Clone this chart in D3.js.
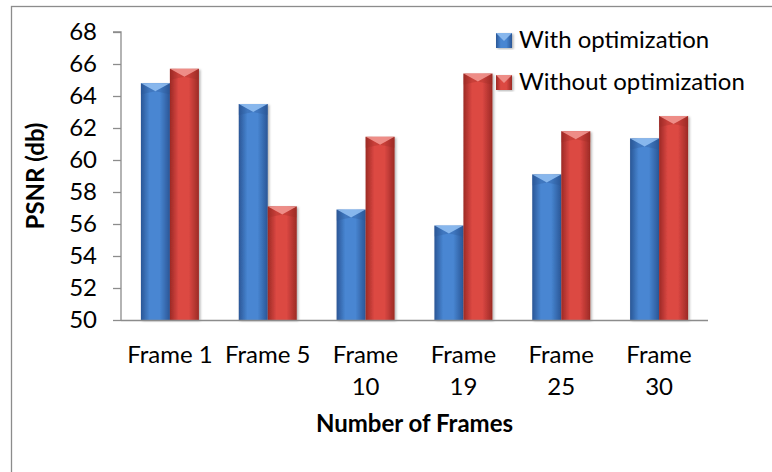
<!DOCTYPE html>
<html>
<head>
<meta charset="utf-8">
<script src="https://cdn.jsdelivr.net/npm/d3@7"></script>
<style>
  html, body { margin: 0; padding: 0; background: #fff; }
  svg { display: block; font-family: Lato, "Open Sans", sans-serif; }
</style>
</head>
<body>
<svg id="chart" width="772" height="472"></svg>
<script>
const categories = ["Frame 1", "Frame 5", "Frame 10", "Frame 19", "Frame 25", "Frame 30"];
const seriesNames = ["With optimization", "Without optimization"];
const withOpt = [64.8, 63.5, 56.9, 55.9, 59.1, 61.35];
const withoutOpt = [65.7, 57.1, 61.45, 65.4, 61.8, 62.75];
const yTicks = [50, 52, 54, 56, 58, 60, 62, 64, 66, 68];
const yTitle = "PSNR (db)";
const xTitle = "Number of Frames";

const seriesValues = [withOpt, withoutOpt];
const palette = {
  "With optimization": { dark: "#2a5696", mid: "#4886d2", cap: "#8fbcef" },
  "Without optimization": { dark: "#9c2a25", mid: "#dc4843", cap: "#f0958f" }
};

const svg = d3.select("#chart");
const plot = { left: 121, right: 708, top: 32, bottom: 320 };
const FS = 24;

svg.append("rect")
  .attr("x", 11.5).attr("y", 6.5)
  .attr("width", 800).attr("height", 500)
  .attr("fill", "none").attr("stroke", "#8c8c8c").attr("stroke-width", 1.3);

const defs = svg.append("defs");
seriesNames.forEach((s, i) => {
  const c = palette[s];
  const g = defs.append("linearGradient").attr("id", "grad" + i)
    .attr("x1", "0%").attr("x2", "100%").attr("y1", "0%").attr("y2", "0%");
  g.append("stop").attr("offset", "0%").attr("stop-color", c.dark);
  g.append("stop").attr("offset", "30%").attr("stop-color", c.mid);
  g.append("stop").attr("offset", "65%").attr("stop-color", c.mid);
  g.append("stop").attr("offset", "100%").attr("stop-color", c.dark);
  const f = defs.append("filter").attr("id", "shadow" + i)
    .attr("x", "-20%").attr("y", "-5%").attr("width", "150%").attr("height", "115%");
  f.append("feDropShadow").attr("dx", 1.5).attr("dy", 1).attr("stdDeviation", 1.2)
    .attr("flood-color", "#000").attr("flood-opacity", 0.3);
});

const x = d3.scaleBand().domain(categories).range([plot.left, plot.right]).paddingInner(0).paddingOuter(0);
const bw = x.bandwidth();
const xInner = d3.scaleBand().domain(seriesNames).range([bw * 0.2035, bw * 0.7965]);
const y = d3.scaleLinear().domain([50, 68]).range([plot.bottom, plot.top]);

const yAxis = d3.axisLeft(y).tickValues(yTicks).tickSize(8).tickPadding(16).tickFormat(d3.format("d"));
const gy = svg.append("g").attr("transform", `translate(${plot.left},0)`).call(yAxis);
gy.select(".domain").attr("stroke", "#8c8c8c").attr("stroke-width", 1.3).attr("d", `M-8,${plot.top}H0V${plot.bottom}`);
gy.selectAll(".tick line").attr("stroke", "#8c8c8c").attr("stroke-width", 1.3);
gy.selectAll(".tick text").attr("font-size", FS).attr("fill", "#000").attr("font-family", "Lato, sans-serif");

const barData = [];
categories.forEach((c, ci) => seriesNames.forEach((s, si) => barData.push({ c, s, si, v: seriesValues[si][ci] })));

const bars = svg.append("g").selectAll("g.bar").data(barData).join("g").attr("class", "bar");
bars.append("rect")
  .attr("x", d => x(d.c) + xInner(d.s))
  .attr("y", d => y(d.v))
  .attr("width", xInner.bandwidth())
  .attr("height", d => y(50) - y(d.v))
  .attr("fill", d => `url(#grad${d.si})`)
  .attr("filter", d => `url(#shadow${d.si})`);
bars.append("path")
  .attr("d", d => {
    const x0 = x(d.c) + xInner(d.s), w = xInner.bandwidth(), y0 = y(d.v), h = 8;
    return `M${x0},${y0}H${x0 + w}L${x0 + w / 2},${y0 + h}Z`;
  })
  .attr("fill", d => palette[d.s].cap).attr("opacity", 0.9);
bars.append("path")
  .attr("d", d => {
    const x0 = x(d.c) + xInner(d.s), w = xInner.bandwidth(), y0 = y(d.v), h = 8;
    return `M${x0},${y0}L${x0 + w / 2},${y0 + h}L${x0},${y0 + h + 3}Z M${x0 + w},${y0}L${x0 + w / 2},${y0 + h}L${x0 + w},${y0 + h + 3}Z`;
  })
  .attr("fill", d => palette[d.s].dark).attr("opacity", 0.3);

svg.append("line")
  .attr("x1", plot.left).attr("x2", plot.right)
  .attr("y1", plot.bottom + 0.5).attr("y2", plot.bottom + 0.5)
  .attr("stroke", "#8c8c8c").attr("stroke-width", 1.3);

const xl = svg.append("g");
categories.forEach(c => {
  const t = xl.append("text")
    .attr("x", x(c) + bw / 2).attr("y", 363)
    .attr("text-anchor", "middle").attr("font-size", FS).attr("fill", "#000")
    .text(c);
  if (t.node().getComputedTextLength() > bw * 0.92) {
    const words = c.split(" ");
    t.text(null);
    words.forEach((w, i) => t.append("tspan").attr("x", x(c) + bw / 2).attr("dy", i === 0 ? 0 : 32).text(w));
  }
});

svg.append("text")
  .attr("transform", `translate(44,${(plot.top + plot.bottom) / 2}) rotate(-90)`)
  .attr("text-anchor", "middle").attr("font-size", FS).attr("font-weight", "bold").attr("fill", "#000")
  .text(yTitle);
svg.append("text")
  .attr("x", (plot.left + plot.right) / 2).attr("y", 432)
  .attr("text-anchor", "middle").attr("font-size", FS).attr("font-weight", "bold").attr("fill", "#000")
  .text(xTitle);

const legend = svg.append("g");
seriesNames.forEach((s, i) => {
  const base = 48 + i * 42;
  const g = legend.append("g");
  g.append("rect").attr("x", 496).attr("y", base - 15).attr("width", 16).attr("height", 15)
    .attr("fill", `url(#grad${i})`).attr("filter", `url(#shadow${i})`);
  g.append("path").attr("d", `M496,${base - 15}H512L504,${base - 7}Z`).attr("fill", palette[s].cap).attr("opacity", 0.9);
  g.append("text").attr("x", 519).attr("y", base).attr("font-size", FS).attr("fill", "#000").text(s);
});
</script>
</body>
</html>
